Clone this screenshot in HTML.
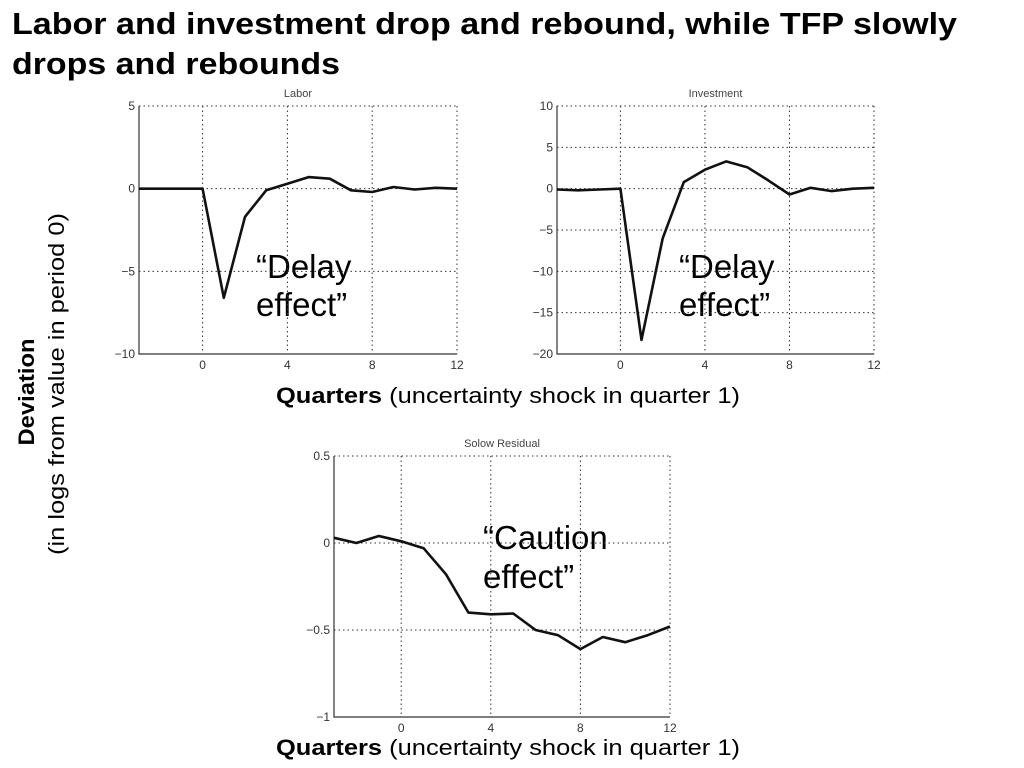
<!DOCTYPE html>
<html><head><meta charset="utf-8"><style>
body{margin:0;background:#fff;width:1024px;height:768px;overflow:hidden}
svg{display:block;font-family:"Liberation Sans",Arial,sans-serif}
</style></head><body>
<svg id="svg" width="1024" height="768" viewBox="0 0 1024 768">
<text x="12" y="34" font-size="31" font-weight="bold" textLength="945" lengthAdjust="spacingAndGlyphs">Labor and investment drop and rebound, while TFP slowly</text>
<text x="12" y="74" font-size="31" font-weight="bold" textLength="328" lengthAdjust="spacingAndGlyphs">drops and rebounds</text>
<g transform="translate(34,392) rotate(-90)">
<text x="0" y="0" font-size="22" font-weight="bold" text-anchor="middle" textLength="107" lengthAdjust="spacingAndGlyphs">Deviation</text>
<text x="8" y="30" font-size="22" text-anchor="middle" textLength="342" lengthAdjust="spacingAndGlyphs">(in logs from value in period 0)</text>
</g>
<text x="276" y="403" font-size="22" textLength="464" lengthAdjust="spacingAndGlyphs"><tspan font-weight="bold">Quarters</tspan> (uncertainty shock in quarter 1)</text>
<text x="276" y="755" font-size="22" textLength="464" lengthAdjust="spacingAndGlyphs"><tspan font-weight="bold">Quarters</tspan> (uncertainty shock in quarter 1)</text>
<text font-size="33"><tspan x="256" y="278">“Delay</tspan><tspan x="256" y="316">effect”</tspan></text>
<text font-size="33"><tspan x="679" y="278">“Delay</tspan><tspan x="679" y="316">effect”</tspan></text>
<text font-size="33"><tspan x="483" y="549">“Caution</tspan><tspan x="483" y="588">effect”</tspan></text>
</svg>
<script>
const quarters=[-3,-2,-1,0,1,2,3,4,5,6,7,8,9,10,11,12];
const xTicks=[0,4,8,12];
const laborValues=[0,0,0,0,-6.6,-1.7,-0.1,0.3,0.7,0.6,-0.1,-0.2,0.1,-0.05,0.05,0];
const laborTicks=[5,0,-5,-10];
const investmentValues=[-0.1,-0.2,-0.1,0,-18.3,-6,0.8,2.3,3.3,2.6,1,-0.7,0.1,-0.3,0,0.1];
const investmentTicks=[10,5,0,-5,-10,-15,-20];
const solowValues=[0.03,0,0.04,0.01,-0.03,-0.18,-0.4,-0.41,-0.405,-0.5,-0.53,-0.61,-0.54,-0.57,-0.53,-0.48];
const solowTicks=[0.5,0,-0.5,-1];
const NS='http://www.w3.org/2000/svg';
const svg=document.getElementById('svg');
function mk(tag,attrs,parent){const e=document.createElementNS(NS,tag);for(const k in attrs)e.setAttribute(k,attrs[k]);(parent||svg).appendChild(e);return e;}
function fmt(v){return v<0?'\u2212'+Math.abs(v):String(v);}
function chart(name,title,box,yTicks,vals){
  const g=mk('g',{});
  
  
  const ymax=Math.max(...yTicks),ymin=Math.min(...yTicks);
  const sx=v=>box.l+(v+3)/15*(box.r-box.l);
  const sy=v=>box.t+(ymax-v)/(ymax-ymin)*(box.b-box.t);
  const t=mk('text',{x:(box.l+box.r)/2,y:box.t-9,'font-size':11,fill:'#444','text-anchor':'middle'},g);
  t.textContent=title;
  
  
  yTicks.forEach(v=>{
    const y=sy(v);
    const gl=mk('line',{x1:box.l,x2:box.r,y1:y,y2:y,stroke:'#333','stroke-width':1,'stroke-dasharray':'1.5,3'},g);
    
    
    const tl=mk('text',{x:box.l-4,y:y+4,'font-size':12,fill:'#333','text-anchor':'end'},g);
    tl.textContent=fmt(v);
    
    
  });
  xTicks.forEach(v=>{
    const x=sx(v);
    const gl=mk('line',{x1:x,x2:x,y1:box.t,y2:box.b,stroke:'#333','stroke-width':1,'stroke-dasharray':'1.5,3'},g);
    
    
    const tl=mk('text',{x:x,y:box.b+15,'font-size':12,fill:'#333','text-anchor':'middle'},g);
    tl.textContent=fmt(v);
    
    
  });
  const ax=mk('path',{d:`M${box.l},${box.t}V${box.b}H${box.r}`,fill:'none',stroke:'#333','stroke-width':1.2},g);
  
  
  const pts=vals.map((v,i)=>sx(quarters[i]).toFixed(1)+','+sy(v).toFixed(1)).join(' ');
  const ln=mk('polyline',{points:pts,fill:'none',stroke:'#111','stroke-width':2.6,'stroke-linejoin':'round'},g);
  
  
}
chart('labor','Labor',{l:139,r:457,t:106,b:354},laborTicks,laborValues);
chart('investment','Investment',{l:557,r:874,t:106,b:354},investmentTicks,investmentValues);
chart('solow','Solow Residual',{l:334,r:670,t:456,b:717},solowTicks,solowValues);
</script>
</body></html>
